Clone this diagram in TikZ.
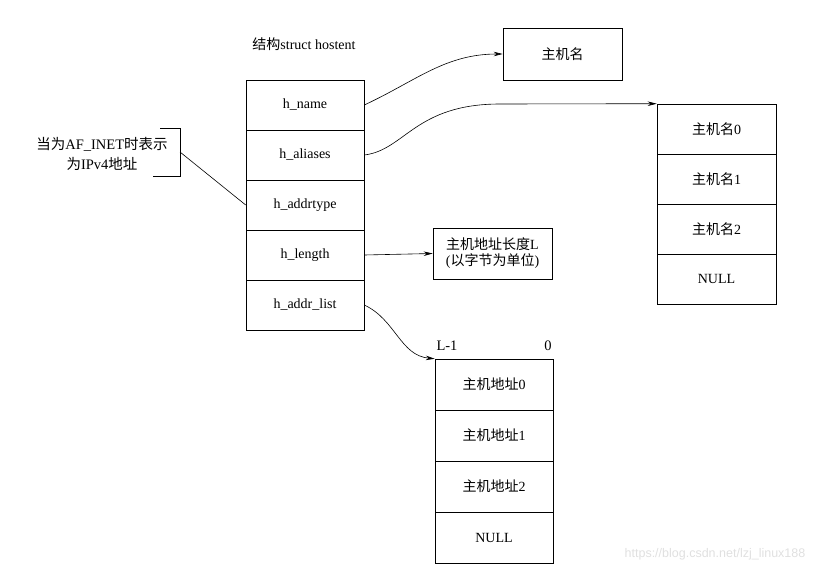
\documentclass[tikz,border=0pt]{standalone}
\usepackage{fontspec}
\setmainfont{Liberation Serif}
\newfontfamily\cjk{Noto Sans CJK SC}
\newfontfamily\wmfont{Liberation Sans}
\usetikzlibrary{arrows.meta}
\begin{document}
\begin{tikzpicture}[x=1pt, y=-1pt, line width=0.6pt,
    field/.style={rectangle, draw, minimum width=118pt, minimum
      height=50pt, inner sep=0pt, font=\fontsize{14}{16}\selectfont},
    >={Stealth[length=9pt, width=4.5pt]}]
    \useasboundingbox (0,0) rectangle (840,573);
    \node [font=\fontsize{14}{16}\selectfont] (title) at (304,44)
    {{\cjk 结构}struct hostent};
    \begin{scope}[every node/.style={field}]
      % struct hostent
      \node (name) at (305,105) {h\_name}; \node (aliases) at
      (305,155) {h\_aliases}; \node (addrtype) at (305,205)
      {h\_addrtype}; \node (length) at (305,255) {h\_length};
      \node (addrlist) at (305,305) {h\_addr\_list};
      % host name
      \node [minimum width=119pt, minimum height=52pt] (host) at
      (562.5,54) {{\cjk 主机名}};
      % aliases
      \node [minimum width=119pt] (al0) at (716.5,129) {{\cjk
          主机名}0}; \node [minimum width=119pt] (al1) at (716.5,179)
      {{\cjk 主机名}1}; \node [minimum width=119pt] (al2) at
      (716.5,229) {{\cjk 主机名}2}; \node [minimum width=119pt]
      (al3) at (716.5,279) {NULL};
      % length
      \node [minimum width=119pt, minimum height=51pt, align=center]
      (len) at (492.5,253.5) {{\cjk 主机地址长度}L\\({\cjk
          以字节为单位})};
      % address list
      \node [minimum height=51pt] (ad0) at (494,384.5) {{\cjk
          主机地址}0}; \node [minimum height=51pt] (ad1) at
      (494,435.5) {{\cjk 主机地址}1}; \node [minimum height=51pt]
      (ad2) at (494,486.5) {{\cjk 主机地址}2}; \node [minimum
      height=51pt] (ad3) at (494,537.5) {NULL};
    \end{scope}
    \begin{scope}[every node/.style={font=\fontsize{14.5}{20}\selectfont}]
      \node (lhi) at (447,346) {L-1}; \node (llo) at (548,346) {0};
      \node [align=center] (note) at (102,154) {{\cjk
          当为}AF\_INET{\cjk 时表示}\\{\cjk 为}IPv4{\cjk 地址}};
    \end{scope}
    \draw (160,128) -- (180,128) -- (180,176) -- (153,176);
    \coordinate (brk) at (180,152);
    \begin{scope}[->]
      \draw (name.east) to [out=25, in=180] (host.west); \draw
      (aliases.east) .. controls (405,150) and (415,104) .. (500,104)
      -- (al0.north west); \draw (length.east) -- (len.west); \draw
      (addrlist.east) to [out=-25, in=175] (ad0.north west);
    \end{scope}
    \draw (brk) -- (addrtype.west);
    \node [font=\wmfont\fontsize{12.5}{14}\selectfont, text=black!12]
    (mark) at (715,554) {https://blog.csdn.net/lzj\_linux188};
  \end{tikzpicture}
\end{document}
